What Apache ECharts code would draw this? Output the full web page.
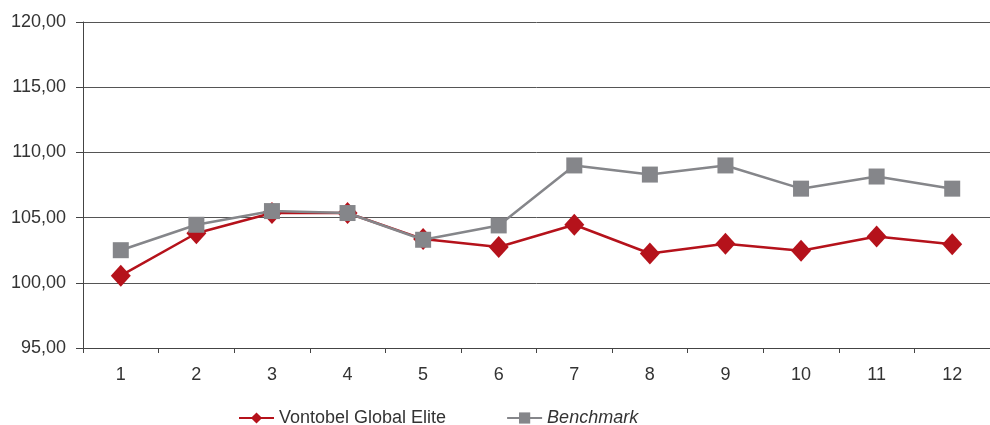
<!DOCTYPE html>
<html>
<head>
<meta charset="utf-8">
<script src="https://cdn.jsdelivr.net/npm/echarts@6/dist/echarts.min.js"></script>
<style>html,body{margin:0;padding:0;background:#fff;}#c{width:990px;height:425px;}</style>
</head>
<body>
<div id="c"></div>
<script>
var categories = ['1','2','3','4','5','6','7','8','9','10','11','12'];
var vontobel = [100.55, 103.8, 105.35, 105.35, 103.35, 102.75, 104.45, 102.25, 103.0, 102.45, 103.55, 102.95];
var benchmark = [102.5, 104.45, 105.5, 105.35, 103.3, 104.4, 109.0, 108.3, 109.0, 107.22, 108.15, 107.22];
var seriesNames = ['Vontobel Global Elite', 'Benchmark'];

var chart = echarts.init(document.getElementById('c'));
chart.setOption({
  animation: false,
  textStyle: {fontFamily: 'Liberation Sans, Arial, sans-serif'},
  grid: {left: 83, top: 22, width: 908, bottom: 77, containLabel: false},
  legend: {
    left: 238, top: 409, padding: 0, itemWidth: 35, itemHeight: 14, itemGap: 60,
    textStyle: {fontSize: 18, color: '#333'},
    data: [
      {name: seriesNames[0]},
      {name: seriesNames[1], textStyle: {fontStyle: 'italic'}}
    ]
  },
  xAxis: {
    type: 'category', data: categories, boundaryGap: true,
    axisLine: {lineStyle: {color: '#444', width: 1}},
    axisTick: {show: true, length: 5, alignWithLabel: false, lineStyle: {color: '#444'}},
    axisLabel: {fontSize: 18, color: '#333', margin: 18}
  },
  yAxis: {
    type: 'value', min: 95, max: 120, interval: 5,
    axisLine: {show: true, lineStyle: {color: '#444', width: 1}},
    axisTick: {show: true, length: 7, lineStyle: {color: '#444'}},
    axisLabel: {fontSize: 18, color: '#333', margin: 17,
      formatter: function(v){ return v.toFixed(2).replace('.', ','); }},
    splitLine: {lineStyle: {color: '#555', width: 1}}
  },
  series: [
    {name: seriesNames[0], type: 'line', data: vontobel,
     symbol: 'diamond', symbolSize: [20, 22], color: '#b5121b',
     lineStyle: {color: '#b5121b', width: 2.5}, itemStyle: {color: '#b5121b'}, z: 2},
    {name: seriesNames[1], type: 'line', data: benchmark,
     symbol: 'rect', symbolSize: 16, color: '#85868a',
     lineStyle: {color: '#85868a', width: 2.5}, itemStyle: {color: '#85868a'}, z: 3}
  ]
});
</script>
</body>
</html>
